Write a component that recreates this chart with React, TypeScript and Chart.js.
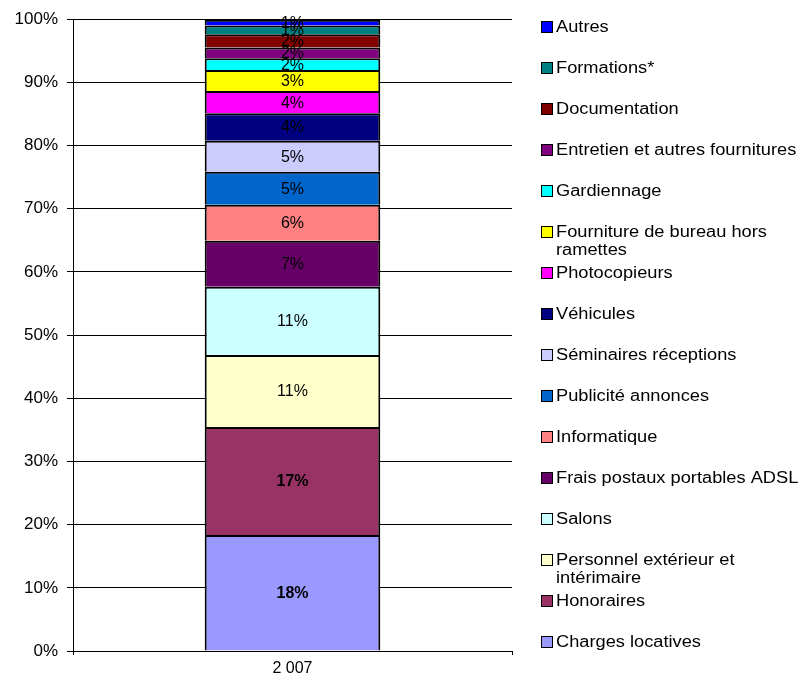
import React, { useEffect, useRef } from "react";
import { Chart, registerables } from "chart.js";

Chart.register(...registerables);

const categories = ["2 007"];

// bottom-to-top order of the stack
const seriesNames = [
  "Charges locatives",
  "Honoraires",
  "Personnel extérieur et\nintérimaire",
  "Salons",
  "Frais postaux portables ADSL",
  "Informatique",
  "Publicité annonces",
  "Séminaires réceptions",
  "Véhicules",
  "Photocopieurs",
  "Fourniture de bureau hors\nramettes",
  "Gardiennage",
  "Entretien et autres fournitures",
  "Documentation",
  "Formations*",
  "Autres",
];

const seriesValues = [18.35, 17.1, 11.4, 10.8, 7.3, 5.7, 5.2, 4.9, 4.35, 3.55, 3.3, 1.85, 1.74, 2.06, 1.4, 0.9];

const seriesColors = [
  "#9999FF",
  "#993366",
  "#FFFFCC",
  "#CCFFFF",
  "#660066",
  "#FF8080",
  "#0066CC",
  "#CCCCFF",
  "#000080",
  "#FF00FF",
  "#FFFF00",
  "#00FFFF",
  "#800080",
  "#800000",
  "#008080",
  "#0000FF",
];

const yTicks = [0, 10, 20, 30, 40, 50, 60, 70, 80, 90, 100];

const FONT = "'Liberation Sans', Arial, sans-serif";

const labelPlugin = {
  id: "segLabels",
  afterDatasetsDraw(chart: any) {
    const ctx = chart.ctx;
    ctx.save();
    ctx.textAlign = "center";
    ctx.textBaseline = "middle";
    ctx.fillStyle = "#000";
    chart.data.datasets.forEach((ds: any, i: number) => {
      const meta = chart.getDatasetMeta(i);
      meta.data.forEach((el: any, j: number) => {
        const v = ds.data[j];
        const bold = v >= 15;
        ctx.font = `${bold ? "bold " : ""}16px ${FONT}`;
        const cy = (el.y + el.base) / 2;
        ctx.fillText(Math.round(v) + "%", el.x, cy + 1);
      });
    });
    ctx.restore();
  },
};

const legendPlugin = {
  id: "sideLegend",
  afterDraw(chart: any) {
    const ctx = chart.ctx;
    ctx.save();
    ctx.font = `16px ${FONT}`;
    ctx.textBaseline = "middle";
    ctx.textAlign = "left";
    const n = chart.data.datasets.length;
    for (let k = 0; k < n; k++) {
      const idx = n - 1 - k;
      const ds = chart.data.datasets[idx];
      const y = 27 + 41 * k;
      ctx.fillStyle = ds.backgroundColor;
      ctx.fillRect(541, y - 6, 12, 12);
      ctx.strokeStyle = "#000";
      ctx.lineWidth = 1;
      ctx.strokeRect(541.5, y - 5.5, 11, 11);
      ctx.fillStyle = "#000";
      const lines = String(ds.label).split("\n");
      lines.forEach((ln: string, li: number) => {
        ctx.save();
        ctx.translate(556, y + 1 + li * 18);
        ctx.scale(1.14, 1);
        ctx.fillText(ln, 0, 0);
        ctx.restore();
      });
    }
    ctx.restore();
  },
};

export default function App() {
  const ref = useRef<HTMLCanvasElement>(null);
  useEffect(() => {
    if (!ref.current) return;
    const chart = new Chart(ref.current, {
      type: "bar",
      data: {
        labels: categories,
        datasets: seriesNames.map((name, i) => ({
          label: name,
          data: [seriesValues[i]],
          backgroundColor: seriesColors[i],
          borderColor: "#000",
          borderWidth: 2,
          borderSkipped: "start" as any,
          barPercentage: 0.4,
          categoryPercentage: 1,
        })),
      },
      options: {
        responsive: false,
        animation: false,
        devicePixelRatio: 1,
        layout: { padding: { top: 19, right: 290, left: 0, bottom: 0 } },
        plugins: {
          legend: { display: false },
          tooltip: { enabled: false },
        },
        scales: {
          x: {
            stacked: true,
            grid: {
              display: true,
              drawOnChartArea: false,
              color: "#000",
              tickLength: 4,
              offset: true,
            },
            border: { display: true, color: "#000", width: 1 },
            ticks: {
              color: "#000",
              font: { family: FONT, size: 16 },
              padding: 4,
            },
            afterFit(scale: any) {
              scale.height = 34;
            },
          },
          y: {
            stacked: true,
            min: 0,
            max: 100,
            grid: { color: "#000", lineWidth: 1, tickLength: 6 },
            border: { display: true, color: "#000", width: 1 },
            ticks: {
              stepSize: 10,
              color: "#000",
              padding: 9,
              font: { family: FONT, size: 17 },
              callback: (v: any) => (yTicks.includes(Number(v)) ? v + "%" : ""),
            },
            afterFit(scale: any) {
              scale.width = 73;
            },
          },
        },
      },
      plugins: [labelPlugin, legendPlugin],
    });
    return () => chart.destroy();
  }, []);
  return (
    <div style={{ position: "absolute", left: 0, top: 0, width: 802, height: 685, background: "#fff" }}>
      <canvas ref={ref} width={802} height={685} />
    </div>
  );
}
